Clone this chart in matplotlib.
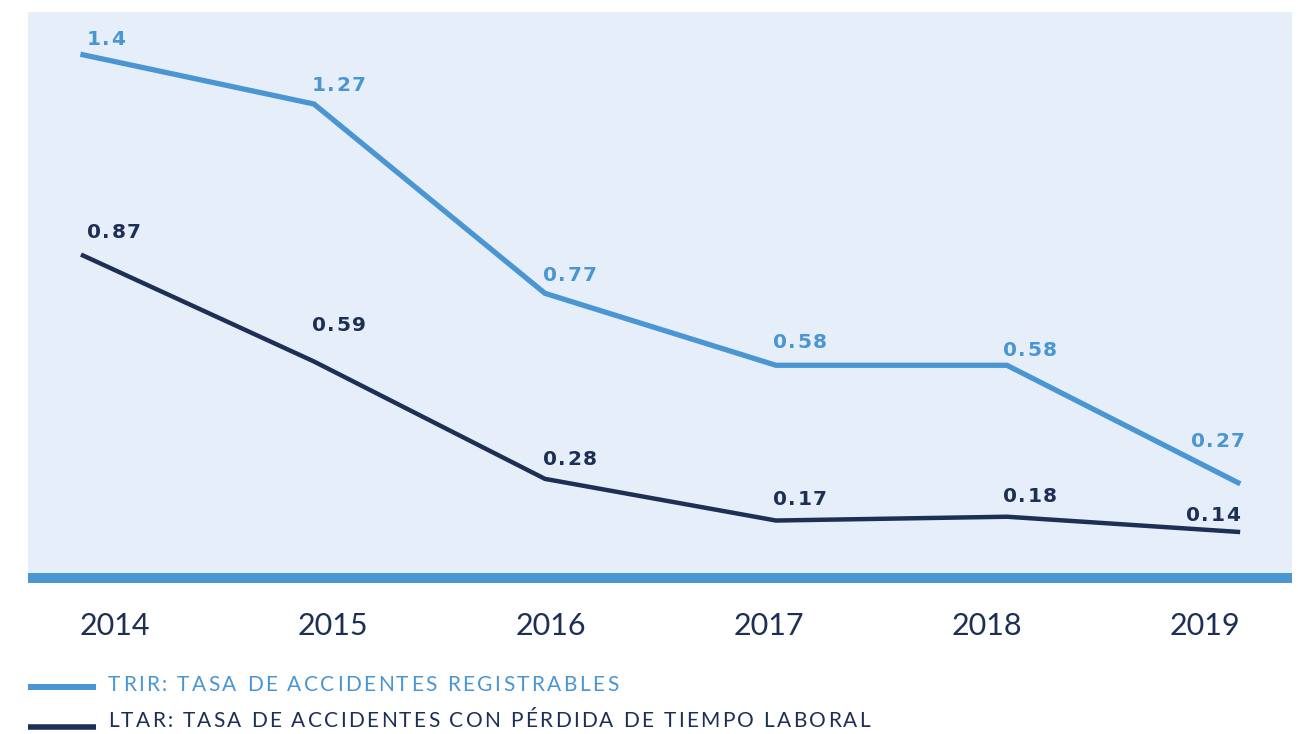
import matplotlib
matplotlib.use("Agg")
import matplotlib.pyplot as plt
from matplotlib.patches import Rectangle
from matplotlib.transforms import IdentityTransform

# data
years = [2014, 2015, 2016, 2017, 2018, 2019]
trir = [1.40, 1.27, 0.77, 0.58, 0.58, 0.27]
ltar = [0.87, 0.59, 0.28, 0.17, 0.18, 0.14]
trir_labels = ["1.4", "1.27", "0.77", "0.58", "0.58", "0.27"]
ltar_labels = ["0.87", "0.59", "0.28", "0.17", "0.18", "0.14"]
legend_labels = ["TRIR: TASA DE ACCIDENTES REGISTRABLES",
                 "LTAR: TASA DE ACCIDENTES CON PÉRDIDA DE TIEMPO LABORAL"]

LIGHT = "#4a96d3"
DARK = "#1d2f55"
BG = "#e6eef9"

# label offsets in pixels (dx, baseline dy) from each point
trir_off = [(4, 10), (-2, 13), (-2, 12), (-3, 17), (-4, 9), (7, 36)]
ltar_off = [(4, 17), (-2, 30), (-2, 14), (-3, 16), (-4, 15), (2, 11)]

W, H = 1298, 734
fig = plt.figure(figsize=(W / 100, H / 100), dpi=100)
ax = fig.add_axes([28 / W, 1 - 583 / H, (1292 - 28) / W, (583 - 12) / H])
ax.set_facecolor(BG)
renderer = fig.canvas.get_renderer()


def text_width(s, **kw):
    t = fig.text(0, 0, s, **kw)
    w = t.get_window_extent(renderer).width
    t.remove()
    return w


def spaced_text(x, y, s, gap, ha="left", **kw):
    """Draw s in display pixels (y from bottom) with extra letter spacing."""
    ref = text_width("I", **kw)
    pos = [text_width(s[:i] + "I", **kw) - ref for i in range(len(s))]
    total = text_width(s, **kw) + gap * (len(s) - 1)
    x0 = x - total if ha == "right" else x
    for i, ch in enumerate(s):
        fig.text(x0 + pos[i] + gap * i, y, ch, transform=IdentityTransform(),
                 va="baseline", ha="left", **kw)


l1, = ax.plot(years, trir, color=LIGHT, lw=3.8, solid_joinstyle="miter")
l2, = ax.plot(years, ltar, color=DARK, lw=3.2, solid_joinstyle="miter")

ax.set_xlim(2013.762, 2019.234)
ax.set_ylim(0.005, 1.513)

# thick blue base bar
ax.add_patch(Rectangle((0, 0), 1, 10 / 571, transform=ax.transAxes,
                       color=LIGHT, lw=0, zorder=3))

for series, labels, offs, col in [(trir, trir_labels, trir_off, LIGHT),
                                  (ltar, ltar_labels, ltar_off, DARK)]:
    for i, (x, y) in enumerate(zip(years, series)):
        px, py = ax.transData.transform((x, y))
        ha = "right" if i == len(years) - 1 else "left"
        spaced_text(px + offs[i][0], py + offs[i][1], labels[i], 1.5, ha=ha,
                    color=col, fontsize=14.5, fontweight="bold", family="DejaVu Sans")

for s in ax.spines.values():
    s.set_visible(False)
ax.set_yticks([])
# year labels sit on a slightly tighter spacing than the data points
ax.set_xticks([2014.139 + k * 0.9437 for k in range(len(years))])
ax.set_xticklabels([str(y) for y in years], fontfamily="Lato", fontsize=22, color=DARK)
ax.tick_params(axis="x", length=0, pad=21)

leg = fig.legend([l1, l2], ["", ""], loc="upper left",
                 bbox_to_anchor=(28 / W, 1 - 678 / H), frameon=False, borderpad=0,
                 borderaxespad=0, handlelength=3.26, handletextpad=0, labelspacing=0.97,
                 fontsize=15)
for ln, lw in zip(leg.get_lines(), [4.3, 4.0]):
    ln.set_linewidth(lw)
    ln.set_solid_capstyle("butt")

spaced_text(108, H - 691, legend_labels[0], 2.45, color=LIGHT, fontsize=15, family="Lato")
spaced_text(108, H - 727, legend_labels[1], 2.3, color=DARK, fontsize=15, family="Lato")

fig.savefig("out.png", dpi=100)
